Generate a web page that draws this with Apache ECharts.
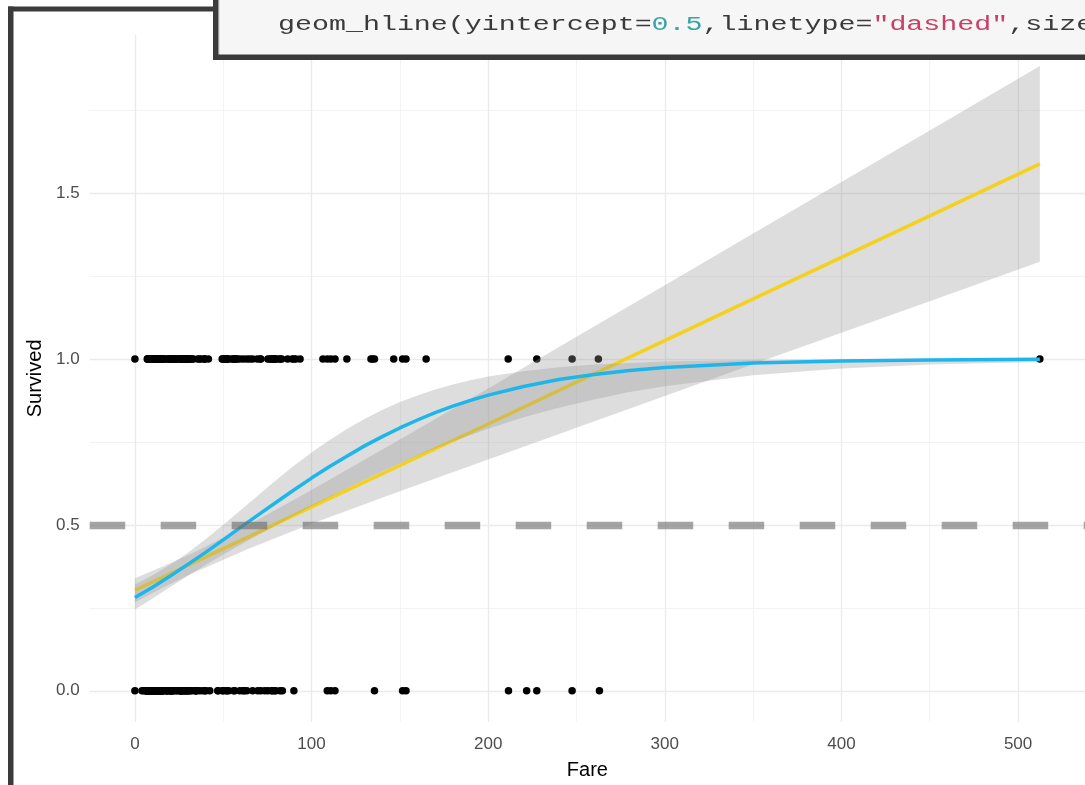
<!DOCTYPE html>
<html>
<head>
<meta charset="utf-8">
<title>Survived vs Fare</title>
<script src="https://cdn.jsdelivr.net/npm/echarts@6/dist/echarts.min.js"></script>
<style>
  html, body { margin: 0; padding: 0; background: #ffffff; }
  #chart { width: 1085px; height: 785px; }
</style>
</head>
<body>
<div id="chart"></div>
<script>
// Fares paid by passengers who survived (Survived = 1)
const survivedFare = [0, 6.975, 7.225, 7.25, 7.4958, 7.55, 7.65, 7.7333, 7.75, 7.775, 7.7875, 7.8542, 7.925, 8.05, 8.1125,
  8.5167, 8.6625, 9.225, 9.35, 9.5, 9.5875, 9.8417, 10.1708, 10.4625, 10.5, 11.1333, 11.2417, 12, 12.2875, 12.475, 12.65,
  13, 13.4167, 13.5, 13.7917, 13.8583, 14.4, 14.4542, 14.5, 15.0458, 15.2458, 15.5, 15.75, 15.85, 16, 16.1, 16.7, 17.8,
  18.75, 19.2583, 19.5, 20.25, 20.525, 21, 22.025, 22.3583, 23, 23.25, 24, 24.15, 25.9292, 26, 26.25, 26.2833, 26.2875,
  26.3875, 26.55, 27, 27.4458, 27.7208, 27.75, 27.9, 28.5, 29, 29.125, 29.7, 30, 30.5, 31, 31.3875, 32.5, 33, 35.5, 36.75,
  37.0042, 39, 39.4, 39.6, 41.5792, 49.5, 49.5042, 50.4958, 51.4792, 51.8625, 52, 52.5542, 53.1, 55, 55.4417, 56.4958,
  56.9292, 57, 57.9792, 59.4, 61.3792, 63.3583, 65, 66.6, 69.3, 71, 71.2833, 75.25, 76.2917, 76.7292, 77.9583, 78.2667,
  78.85, 79.2, 79.65, 80, 81.8583, 82.1708, 83.1583, 86.5, 89.1042, 90, 91.0792, 93.5, 106.425, 108.9, 110.8833, 113.275,
  120, 133.65, 134.5, 135.6333, 146.5208, 151.55, 153.4625, 164.8667, 211.3375, 227.525, 247.5208, 262.375, 512.3292];

// Fares paid by passengers who did not survive (Survived = 0)
const diedFare = [0, 4.0125, 5, 6.2375, 6.4375, 6.45, 6.4958, 6.75, 6.8583, 6.95, 6.975, 7.0458, 7.05, 7.0542, 7.125,
  7.1417, 7.225, 7.2292, 7.25, 7.3125, 7.4958, 7.52, 7.55, 7.65, 7.725, 7.7292, 7.7333, 7.7375, 7.75, 7.775, 7.7958, 7.8,
  7.8292, 7.8542, 7.875, 7.8875, 7.8958, 7.925, 8.0292, 8.05, 8.1125, 8.1375, 8.1583, 8.3, 8.4042, 8.4333, 8.4583, 8.5167,
  8.6542, 8.6625, 8.6833, 8.7125, 8.85, 9, 9.2167, 9.225, 9.4833, 9.5, 9.5875, 9.8375, 9.8458, 10.5, 10.5167, 11.1333,
  11.2417, 11.5, 12.275, 12.35, 12.525, 12.875, 13, 13.5, 13.7917, 13.8625, 14, 14.1083, 14.4, 14.4542, 14.5, 15.0458,
  15.05, 15.1, 15.2458, 15.5, 15.55, 15.85, 16.1, 17.4, 17.8, 18, 18.75, 18.7875, 19.9667, 20.2125, 20.25, 20.575, 21,
  21.075, 21.6792, 22.525, 23.45, 24.15, 25.4667, 25.5875, 25.925, 26, 26.25, 26.55, 27, 27.7208, 27.9, 28.5, 28.7125,
  29.125, 30, 30.0708, 30.6958, 31.275, 32.3208, 34.0208, 34.375, 34.6542, 35, 36.75, 38.5, 39.6875, 40.125, 42.4, 46.9,
  47.1, 49.5042, 50, 51.8625, 52, 53.1, 55.9, 56.4958, 59.4, 61.175, 61.9792, 63.3583, 66.6, 69.55, 71.2833, 73.5, 75.25,
  77.2875, 77.9583, 79.2, 79.65, 82.1708, 83.475, 90, 108.9, 110.8833, 113.275, 135.6333, 151.55, 153.4625, 211.5,
  221.7792, 227.525, 247.5208, 263];

// Linear smoother (geom_smooth, method = "lm") with its confidence band
const lmX   = [0, 16, 32, 64, 100, 150, 200, 250, 300, 350, 400, 450, 512.33];
const lmFit = [0.303, 0.343, 0.383, 0.463, 0.554, 0.679, 0.804, 0.930, 1.055, 1.181, 1.306, 1.431, 1.588];
const lmLo  = [0.267, 0.311, 0.353, 0.427, 0.503, 0.601, 0.697, 0.793, 0.888, 0.984, 1.079, 1.174, 1.293];
const lmHi  = [0.339, 0.375, 0.413, 0.499, 0.605, 0.757, 0.911, 1.067, 1.222, 1.378, 1.533, 1.688, 1.883];

// Logistic smoother (method = "glm", binomial) with its confidence band
const glmX   = [0, 10, 20, 30, 40, 50, 60, 70, 80, 90, 100, 110, 120, 130, 140, 150, 160, 170, 180, 190, 200,
  220, 240, 260, 280, 300, 350, 400, 450, 512.33];
const glmFit = [0.281, 0.312, 0.346, 0.381, 0.417, 0.455, 0.493, 0.531, 0.568, 0.605, 0.641, 0.675, 0.707, 0.738,
  0.766, 0.792, 0.816, 0.838, 0.858, 0.875, 0.891, 0.917, 0.938, 0.953, 0.965, 0.974, 0.988, 0.994, 0.997, 0.999];
const glmLo  = [0.245, 0.278, 0.313, 0.347, 0.379, 0.411, 0.441, 0.470, 0.499, 0.528, 0.556, 0.583, 0.610, 0.636,
  0.661, 0.685, 0.708, 0.730, 0.751, 0.771, 0.790, 0.824, 0.853, 0.878, 0.900, 0.918, 0.951, 0.971, 0.983, 0.991];
const glmHi  = [0.320, 0.348, 0.380, 0.416, 0.457, 0.500, 0.545, 0.590, 0.635, 0.678, 0.718, 0.755, 0.789, 0.819,
  0.846, 0.870, 0.890, 0.908, 0.923, 0.936, 0.947, 0.963, 0.975, 0.983, 0.988, 0.992, 0.997, 0.999, 1.000, 1.000];

// Axis ticks
const xTicks = [0, 100, 200, 300, 400, 500];
const xTickLabels = ['0', '100', '200', '300', '400', '500'];
const xMinorTicks = [50, 150, 250, 350, 450];
const yTicks = [0, 0.5, 1, 1.5];
const yTickLabels = ['0.0', '0.5', '1.0', '1.5'];
const yMinorTicks = [0.25, 0.75, 1.25, 1.75];

// Reference line (geom_hline)
const cutoff = 0.5;

const zip = (xs, ys) => xs.map((x, i) => [x, ys[i]]);

// Confidence band as a single polygon: upper edge left to right, lower edge back
function ribbon(xs, lo, hi, z) {
  return {
    type: 'custom',
    z: z,
    silent: true,
    data: xs.map((x, i) => [x, lo[i], hi[i]]),
    renderItem: function (params, api) {
      if (params.dataIndex !== 0) return null;
      const pts = [];
      for (let i = 0; i < xs.length; i++) pts.push(api.coord([xs[i], hi[i]]));
      for (let i = xs.length - 1; i >= 0; i--) pts.push(api.coord([xs[i], lo[i]]));
      return {
        type: 'polygon',
        shape: { points: pts },
        style: { fill: 'rgba(153,153,153,0.33)' }
      };
    }
  };
}

const majorGrid = { color: '#ebebeb', width: 1.4, type: 'solid' };
const minorGrid = { color: '#f2f2f2', width: 0.9, type: 'solid' };
const gridLines = []
  .concat(xMinorTicks.map(v => ({ xAxis: v, lineStyle: minorGrid })))
  .concat(yMinorTicks.map(v => ({ yAxis: v, lineStyle: minorGrid })))
  .concat(xTicks.map(v => ({ xAxis: v, lineStyle: majorGrid })))
  .concat(yTicks.map(v => ({ yAxis: v, lineStyle: majorGrid })));

const font = '"Liberation Sans", Arial, sans-serif';
const mono = '"Liberation Mono", "DejaVu Sans Mono", monospace';

const pointStyle = { color: '#000000', opacity: 1 };

const chart = echarts.init(document.getElementById('chart'), null, { renderer: 'canvas' });

chart.setOption({
  animation: false,
  backgroundColor: '#ffffff',
  grid: { left: 89.7, top: 34.7, width: 996.4, height: 687.5, containLabel: false },
  xAxis: {
    type: 'value',
    min: -25.6,
    max: 537.9,
    name: 'Fare',
    nameLocation: 'middle',
    nameGap: 38,
    nameTextStyle: { fontFamily: font, fontSize: 20, color: '#000000' },
    axisLine: { show: false },
    axisTick: { show: false },
    splitLine: { show: false },
    axisLabel: {
      customValues: xTicks,
      margin: 14,
      fontFamily: font,
      fontSize: 17,
      color: '#4d4d4d',
      formatter: v => xTickLabels[xTicks.indexOf(v)] ?? String(v)
    }
  },
  yAxis: {
    type: 'value',
    min: -0.094,
    max: 1.977,
    name: 'Survived',
    nameLocation: 'middle',
    nameGap: 44,
    nameRotate: 90,
    nameTextStyle: { fontFamily: font, fontSize: 20, color: '#000000' },
    axisLine: { show: false },
    axisTick: { show: false },
    splitLine: { show: false },
    axisLabel: {
      customValues: yTicks,
      margin: 10,
      fontFamily: font,
      fontSize: 17,
      color: '#4d4d4d',
      formatter: v => yTickLabels[yTicks.indexOf(v)] ?? String(v)
    }
  },
  series: [
    {
      name: 'died',
      type: 'scatter',
      z: 3,
      silent: true,
      symbol: 'circle',
      symbolSize: 7.5,
      itemStyle: pointStyle,
      data: diedFare.map(f => [f, 0]),
      markLine: {
        z: 1,
        silent: true,
        symbol: ['none', 'none'],
        label: { show: false },
        emphasis: { disabled: true },
        data: gridLines
      }
    },
    {
      name: 'survived',
      type: 'scatter',
      z: 3,
      silent: true,
      symbol: 'circle',
      symbolSize: 7.5,
      itemStyle: pointStyle,
      data: survivedFare.map(f => [f, 1])
    },
    ribbon(lmX, lmLo, lmHi, 4),
    {
      name: 'lm',
      type: 'line',
      z: 5,
      silent: true,
      showSymbol: false,
      lineStyle: { color: '#F4D11C', width: 3.5 },
      data: zip(lmX, lmFit)
    },
    ribbon(glmX, glmLo, glmHi, 6),
    {
      name: 'glm',
      type: 'line',
      z: 7,
      silent: true,
      showSymbol: false,
      smooth: false,
      lineStyle: { color: '#1EB6EA', width: 3.5, join: 'round' },
      data: zip(glmX, glmFit),
      markLine: {
        z: 8,
        silent: true,
        symbol: ['none', 'none'],
        label: { show: false },
        emphasis: { disabled: true },
        lineStyle: { color: 'rgba(110,110,110,0.62)', width: 7.3, type: [35.5, 35.5], cap: 'butt' },
        data: [{ yAxis: cutoff }]
      }
    }
  ],
  graphic: [
    // outer window frame
    { type: 'rect', z: 100, silent: true, shape: { x: 8, y: 6.5, width: 5.5, height: 800 }, style: { fill: '#3b3b3b' } },
    { type: 'rect', z: 100, silent: true, shape: { x: 8, y: 6.5, width: 208, height: 5 }, style: { fill: '#3b3b3b' } },
    // code cell
    { type: 'rect', z: 100, silent: true, shape: { x: 213, y: -6, width: 900, height: 66 }, style: { fill: '#f6f6f6' } },
    { type: 'line', z: 101, silent: true, shape: { x1: 219.5, y1: 0, x2: 219.5, y2: 54.5 }, style: { stroke: '#e0e0e0', lineWidth: 1 } },
    { type: 'rect', z: 102, silent: true, shape: { x: 213, y: -6, width: 5.5, height: 66 }, style: { fill: '#3b3b3b' } },
    { type: 'rect', z: 102, silent: true, shape: { x: 213, y: 54.5, width: 900, height: 5.5 }, style: { fill: '#3b3b3b' } },
    {
      type: 'text',
      z: 103,
      silent: true,
      x: 278,
      y: 25,
      scaleX: 1.415,
      style: {
        text: '{a|geom_hline(yintercept=}{b|0.5}{a|,linetype=}{c|"dashed"}{a|,size}',
        fontFamily: mono,
        fontSize: 20,
        verticalAlign: 'middle',
        align: 'left',
        rich: {
          a: { fill: '#3a3a3a', fontFamily: mono, fontSize: 20 },
          b: { fill: '#3aa3a5', fontFamily: mono, fontSize: 20 },
          c: { fill: '#c8406a', fontFamily: mono, fontSize: 20 }
        }
      }
    }
  ]
});
</script>
</body>
</html>
